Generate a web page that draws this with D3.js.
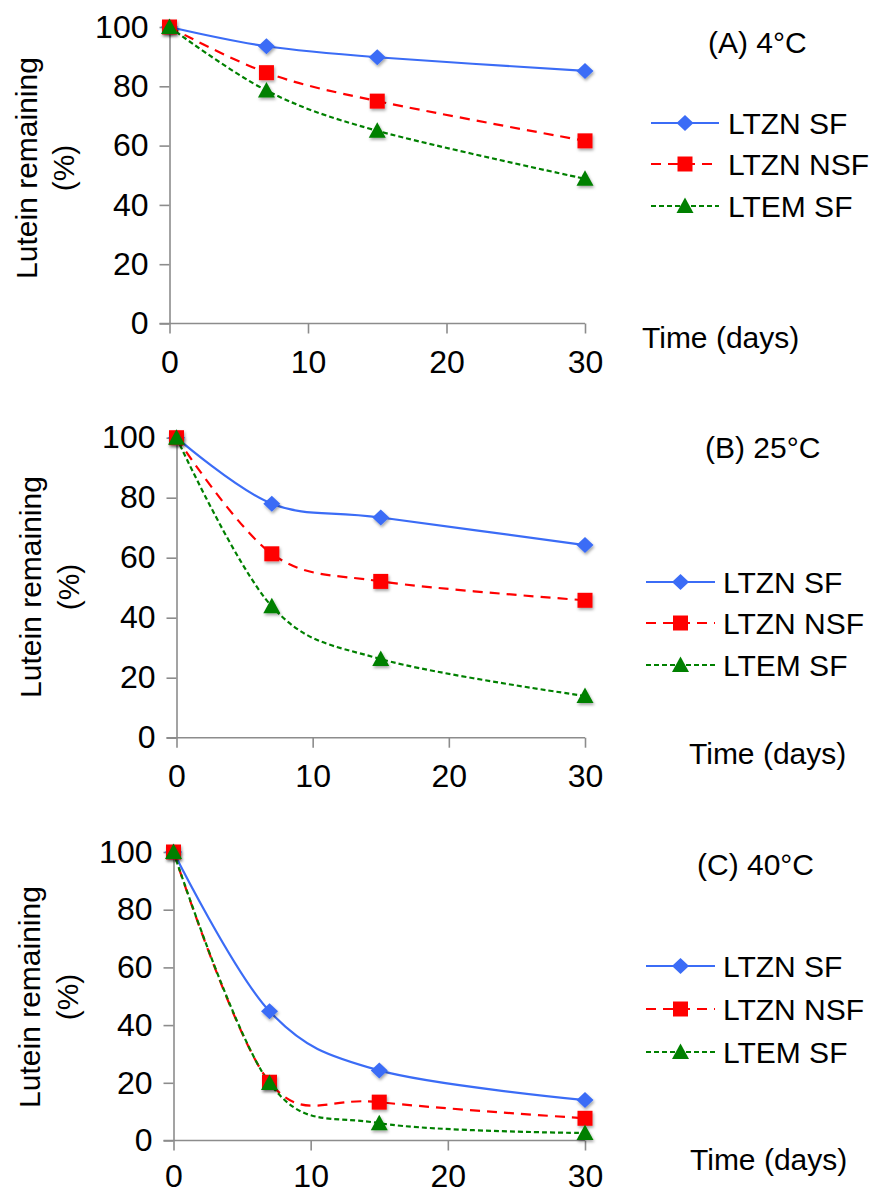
<!DOCTYPE html>
<meta charset="utf-8">
<script src="https://d3js.org/d3.v7.min.js"></script>
<style>
body { margin: 0; background: #fff; }
text { font-family: 'Liberation Sans', Arial, Helvetica, sans-serif; fill: #000; }
</style>
<div id="my_dataviz"></div>
<script>

// data
var days = [0, 7, 15, 30];
var seriesNames = ["LTZN SF", "LTZN NSF", "LTEM SF"];
var panelTitles = ["(A) 4°C", "(B) 25°C", "(C) 40°C"];
var yTicks = [0, 20, 40, 60, 80, 100];
var xTicks = [0, 10, 20, 30];

// 4 °C
var ltznSF_4  = [100, 93.5, 89.8, 85.2];
var ltznNSF_4 = [100, 84.6, 75.0, 61.6];
var ltemSF_4  = [100, 78.6, 65.0, 48.8];
// 25 °C
var ltznSF_25  = [100, 78.0, 73.4, 64.2];
var ltznNSF_25 = [100, 61.3, 52.1, 45.8];
var ltemSF_25  = [100, 43.8, 26.2, 13.9];
// 40 °C
var ltznSF_40  = [100, 44.8, 24.3, 14.0];
var ltznNSF_40 = [100, 20.2, 13.3, 7.7];
var ltemSF_40  = [100, 19.9, 6.0, 2.6];

var panelData = [
  [ltznSF_4, ltznNSF_4, ltemSF_4],
  [ltznSF_25, ltznNSF_25, ltemSF_25],
  [ltznSF_40, ltznNSF_40, ltemSF_40]
];

// styles per series
var colors = ["#3b6cf6", "#ff0000", "#008000"];
var dashes = [null, "10,7", "5,3"];

// marker shapes (wide diamond, square, triangle)
var markerPaths = [
  "M0,-8L8.5,0L0,8L-8.5,0Z",
  "M-7.5,-7.5H7.5V7.5H-7.5Z",
  "M0,-8.5L8.5,7L-8.5,7Z"
];

// layout of the three panels
var panels = [
  {x0: 169.5, x1: 585, y0: 323.5, y1: 27, pad: 17,
   title: [708, 53], time: [642, 348], ylab: [168, 37, 74],
   legX: [651, 719, 728], legY: [123, 164, 206]},
  {x0: 176.5, x1: 585, y0: 737.7, y1: 437.7, pad: 17,
   title: [705, 458], time: [689, 764], ylab: [587, 41, 79],
   legX: [646, 715, 723], legY: [582, 623, 665]},
  {x0: 173.5, x1: 585, y0: 1140.5, y1: 852, pad: 14,
   title: [697, 875], time: [690, 1170], ylab: [997, 40, 78],
   legX: [646, 715, 723], legY: [966, 1009, 1052]}
];

var svg = d3.select("#my_dataviz").append("svg")
    .attr("width", 881)
    .attr("height", 1195);

var defs = svg.append("defs");
defs.append("filter")
    .attr("id", "shadow")
    .attr("x", "-50%").attr("y", "-50%")
    .attr("width", "200%").attr("height", "200%")
  .append("feDropShadow")
    .attr("dx", 1).attr("dy", 2)
    .attr("stdDeviation", 1.4)
    .attr("flood-color", "#000")
    .attr("flood-opacity", 0.35);

panels.forEach(function(p, pi) {
  var x = d3.scaleLinear().domain([0, 30]).range([p.x0, p.x1]);
  var y = d3.scaleLinear().domain([0, 100]).range([p.y0, p.y1]);

  var g = svg.append("g");

  // y axis
  var yAxis = g.append("g")
      .attr("transform", "translate(" + p.x0 + ",0)")
      .call(d3.axisLeft(y).tickValues(yTicks).tickSize(10).tickPadding(11).tickSizeOuter(0));
  // x axis
  var xAxis = g.append("g")
      .attr("transform", "translate(0," + p.y0 + ")")
      .call(d3.axisBottom(x).tickValues(xTicks).tickSize(10).tickPadding(p.pad).tickSizeOuter(0));

  [yAxis, xAxis].forEach(function(a) {
    a.selectAll("path, line").attr("stroke", "#8c8c8c").attr("stroke-width", 1.6);
    a.selectAll("text")
      .style("font-size", "32px")
      .attr("fill", "#000")
      .style("font-family", "'Liberation Sans', Arial, sans-serif");
  });
  xAxis.select(".domain").attr("d", "M" + (p.x0 - 10) + ",0H" + p.x1);

  // y axis title
  var yt = g.append("text")
      .attr("transform", "translate(0," + p.ylab[0] + ") rotate(-90)")
      .attr("text-anchor", "middle")
      .style("font-size", "30px");
  yt.append("tspan").attr("x", 0).attr("y", p.ylab[1]).text("Lutein remaining");
  yt.append("tspan").attr("x", 0).attr("y", p.ylab[2]).text("(%)");

  // panel title
  g.append("text")
      .attr("x", p.title[0]).attr("y", p.title[1])
      .style("font-size", "30px")
      .text(panelTitles[pi]);

  // x axis title
  g.append("text")
      .attr("x", p.time[0]).attr("y", p.time[1])
      .style("font-size", "30px")
      .text("Time (days)");

  var line = d3.line()
      .x(function(d) { return x(d[0]); })
      .y(function(d) { return y(d[1]); })
      .curve(d3.curveCatmullRom.alpha(0));

  // lines
  panelData[pi].forEach(function(vals, si) {
    var pts = days.map(function(d, i) { return [d, vals[i]]; });
    g.append("path")
      .datum(pts)
      .attr("fill", "none")
      .attr("stroke", colors[si])
      .attr("stroke-width", 2.2)
      .attr("stroke-dasharray", dashes[si])
      .attr("d", line);
  });

  // markers
  panelData[pi].forEach(function(vals, si) {
    g.append("g")
      .attr("filter", "url(#shadow)")
      .selectAll("path")
      .data(days.map(function(d, i) { return [d, vals[i]]; }))
      .enter().append("path")
      .attr("transform", function(d) { return "translate(" + x(d[0]) + "," + y(d[1]) + ")"; })
      .attr("d", markerPaths[si])
      .attr("fill", colors[si]);
  });

  // legend
  seriesNames.forEach(function(name, si) {
    var ly = p.legY[si];
    var lg = g.append("g");
    lg.append("line")
      .attr("x1", p.legX[0]).attr("x2", p.legX[1])
      .attr("y1", ly).attr("y2", ly)
      .attr("stroke", colors[si])
      .attr("stroke-width", 2.2)
      .attr("stroke-dasharray", dashes[si]);
    lg.append("path")
      .attr("transform", "translate(" + ((p.legX[0] + p.legX[1]) / 2) + "," + ly + ")")
      .attr("d", markerPaths[si])
      .attr("fill", colors[si]);
    lg.append("text")
      .attr("x", p.legX[2]).attr("y", ly)
      .attr("dy", "0.36em")
      .style("font-size", "30px")
      .text(name);
  });
});

</script>
